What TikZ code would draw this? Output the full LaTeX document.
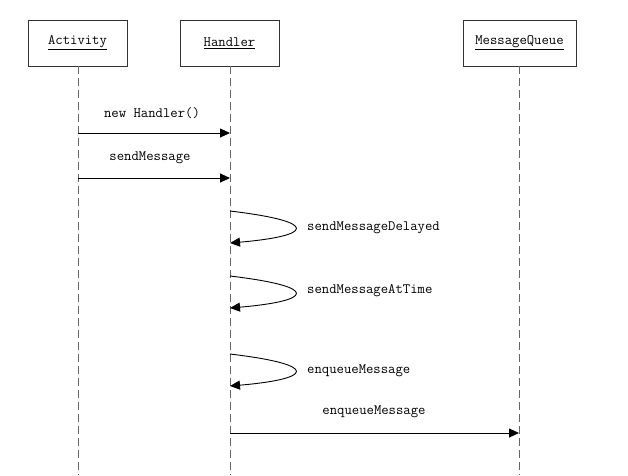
\documentclass[tikz,border=0pt]{standalone}
\usepackage{fontspec}
\setmainfont{Latin Modern Mono}
\usetikzlibrary{arrows.meta}
\begin{document}
\begin{tikzpicture}[x=1pt,y=-1pt,
  obj/.style={draw=black!80,line width=0.9pt,minimum width=99pt,minimum height=46pt,inner sep=0pt,font=\fontsize{14.3}{16}\selectfont},
  life/.style={draw=black!60,line width=1pt,dash pattern=on 8pt off 4pt},
  msg/.style={draw=black,line width=0.9pt,-{Triangle[length=10pt,width=9pt]}},
  lbl/.style={font=\fontsize{14.3}{16}\selectfont,inner sep=0pt}]
\useasboundingbox (0,0) rectangle (628,475);
\node[obj] (act) at (77.5,43) {\underline{Activity}};
\node[obj] (han) at (229.5,43) {\underline{Handler}};
\node[obj,minimum width=113pt] (mq) at (519.5,43) {\underline{MessageQueue}};
\coordinate (actE) at (78,475);
\coordinate (hanE) at (230,475);
\coordinate (mqE) at (519,475);
\draw[life] (act.south -| actE) -- (actE);
\draw[life] (han.south -| hanE) -- (hanE);
\draw[life] (mq.south -| mqE) -- (mqE);
% messages
\coordinate (a1) at (78,133); \coordinate (h1) at (230,133);
\draw[msg] (a1) -- (h1);
\node[lbl] (l1) at (152,113) {new Handler()};
\coordinate (a2) at (78,178); \coordinate (h2) at (230,178);
\draw[msg] (a2) -- (h2);
\node[lbl] (l2) at (150,158) {sendMessage};
% self loops
\coordinate (s1) at (230,211); \coordinate (e1) at (230,243);
\draw[msg] (s1) .. controls (322,222) and (312,236) .. (e1);
\node[lbl,anchor=west] (l3) at (307,228) {sendMessageDelayed};
\coordinate (s2) at (230,276); \coordinate (e2) at (230,308);
\draw[msg] (s2) .. controls (322,287) and (312,301) .. (e2);
\node[lbl,anchor=west] (l4) at (307,291) {sendMessageAtTime};
\coordinate (s3) at (230,354); \coordinate (e3) at (230,386);
\draw[msg] (s3) .. controls (322,365) and (312,379) .. (e3);
\node[lbl,anchor=west] (l5) at (307,371) {enqueueMessage};
% to queue
\coordinate (h4) at (230,433); \coordinate (m4) at (519,433);
\draw[msg] (h4) -- (m4);
\node[lbl] (l6) at (374,412) {enqueueMessage};
\end{tikzpicture}
\end{document}
